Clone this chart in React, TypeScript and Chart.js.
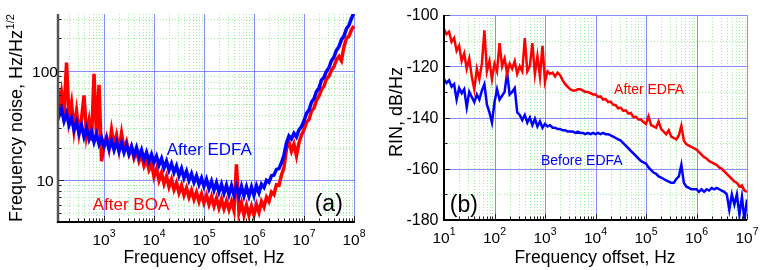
import React, { useEffect, useRef } from 'react';
import { Chart, registerables } from 'chart.js';
Chart.register(...registerables);

const FONT = '"Liberation Sans", Arial, Helvetica, sans-serif';

// ---------- Panel (a): frequency noise ----------
const freqA = [
  120, 125.9, 141.3, 158.5, 177.8, 199.5, 223.9, 251.2, 281.8, 316.2, 354.8, 398.1, 446.7, 501.2, 562.3, 631.0, 707.9, 794.3, 891.3,
  1.0e3, 1.122e3, 1.259e3, 1.413e3, 1.585e3, 1.778e3, 1.995e3, 2.239e3, 2.512e3, 2.818e3, 3.162e3, 3.548e3, 3.981e3, 4.467e3, 5.012e3, 5.623e3, 6.31e3, 7.079e3, 7.943e3, 8.913e3,
  1.0e4, 1.122e4, 1.259e4, 1.413e4, 1.585e4, 1.778e4, 1.995e4, 2.239e4, 2.512e4, 2.818e4, 3.162e4, 3.548e4, 3.981e4, 4.467e4, 5.012e4, 5.623e4, 6.31e4, 7.079e4, 7.943e4, 8.913e4,
  1.0e5, 1.122e5, 1.259e5, 1.413e5, 1.585e5, 1.778e5, 1.995e5, 2.239e5, 2.512e5, 2.818e5, 3.162e5, 3.548e5, 3.981e5, 4.467e5, 5.012e5, 5.623e5, 6.31e5, 7.079e5, 7.943e5, 8.913e5,
  1.0e6, 1.122e6, 1.259e6, 1.413e6, 1.585e6, 1.778e6, 1.995e6, 2.239e6, 2.512e6, 2.818e6, 3.162e6, 3.548e6, 3.981e6, 4.467e6, 5.012e6, 5.623e6, 6.31e6, 7.079e6, 7.943e6, 8.913e6,
  1.0e7, 1.122e7, 1.259e7, 1.413e7, 1.585e7, 1.778e7, 1.995e7, 2.239e7, 2.512e7, 2.818e7, 3.162e7, 3.548e7, 3.981e7, 4.467e7, 5.012e7, 5.623e7, 6.31e7, 7.079e7, 7.943e7, 8.913e7,
  1.0e8,
];
const noiseAfterEDFA = [
  48, 39, 45, 35, 41, 32, 37, 29, 34, 27, 32, 25, 30, 24, 28, 22.5, 26.5, 21.5, 24.5,
  20.5, 24, 19.5, 23, 19, 22.5, 18.5, 22, 18, 21, 17.5, 20.5, 17, 20, 16.5, 19, 15.5, 18, 15, 17.3,
  14.6, 16.6, 13.8, 15.8, 13, 15, 12.4, 14.2, 11.8, 13.5, 11.1, 12.8, 10.5, 12.1, 10, 11.5, 9.6, 11, 9.2, 10.5,
  8.8, 10.2, 8.4, 9.8, 8.1, 9.5, 7.8, 9.2, 7.6, 9, 7.4, 8.9, 7.3, 8.8, 7.2, 8.8, 7.2, 8.7, 7.2, 8.7,
  7.3, 8.9, 7.7, 9.2, 8.6, 10, 9.6, 11, 11.2, 12.6, 12.8, 14.5, 17, 22, 25.5, 24, 27, 25, 29, 31,
  35, 41, 44, 52, 56, 65, 70, 83, 88, 100, 108, 125, 135, 156, 168, 195, 210, 245, 265, 305,
  345,
];
const noiseAfterBOA = [
  70, 44, 63, 41, 120, 37, 51, 29, 43, 27, 37, 60, 26, 35, 23, 95, 25, 75, 15,
  21, 25, 19.5, 29, 21, 26, 19, 27, 19.5, 22.5, 17.5, 20, 16, 18.5, 15, 17.3, 13.6, 15.5, 12.5, 14.2,
  10.8, 12.8, 10, 11.7, 9.3, 10.9, 8.7, 10.2, 8.2, 9.5, 7.7, 9, 7.3, 8.5, 7, 8.1, 6.7, 7.8, 6.4, 7.5,
  6.2, 7.3, 6, 7.1, 5.8, 6.9, 5.6, 6.7, 5.5, 6.5, 5.4, 6.4, 5.3, 14, 5.1, 6.2, 4.8, 5.9, 4.8, 5.8,
  4.8, 6.0, 5.1, 6.4, 5.7, 7.0, 6.4, 7.8, 7.4, 9.1, 9.0, 11.2, 13, 19.5, 22.5, 18.5, 21.5, 16.8, 22, 26,
  29, 34, 36, 43, 46, 54, 59, 68, 73, 85, 90, 102, 110, 128, 137, 125, 168, 200, 210, 240,
  260,
];
const xTickValsA = [1e3, 1e4, 1e5, 1e6, 1e7, 1e8];
const xTickExpA = ['3', '4', '5', '6', '7', '8'];
const yTickValsA = [10, 100];
const yTickLabelsA = ['10', '100'];
const yMinorA = [5, 6, 7, 8, 9, 20, 30, 40, 50, 60, 70, 80, 90, 200, 300];

// ---------- Panel (b): RIN ----------
const freqB = [
  10, 11.22, 12.59, 14.13, 15.85, 17.78, 19.95, 22.39, 25.12, 28.18, 31.62, 35.48, 39.81, 44.67, 50.12, 56.23, 63.1, 70.79, 79.43, 89.13,
  100, 112.2, 125.9, 141.3, 158.5, 177.8, 199.5, 223.9, 251.2, 281.8, 316.2, 354.8, 398.1, 446.7, 501.2, 562.3, 631, 707.9, 794.3, 891.3,
  1.0e3, 1.122e3, 1.259e3, 1.413e3, 1.585e3, 1.778e3, 1.995e3, 2.239e3, 2.512e3, 2.818e3, 3.162e3, 3.548e3, 3.981e3, 4.467e3, 5.012e3, 5.623e3, 6.31e3, 7.079e3, 7.943e3, 8.913e3,
  1.0e4, 1.122e4, 1.259e4, 1.413e4, 1.585e4, 1.778e4, 1.995e4, 2.239e4, 2.512e4, 2.818e4, 3.162e4, 3.548e4, 3.981e4, 4.467e4, 5.012e4, 5.623e4, 6.31e4, 7.079e4, 7.943e4, 8.913e4,
  1.0e5, 1.122e5, 1.259e5, 1.413e5, 1.585e5, 1.778e5, 1.995e5, 2.239e5, 2.512e5, 2.818e5, 3.162e5, 3.548e5, 3.981e5, 4.467e5, 5.012e5, 5.623e5, 6.31e5, 7.079e5, 7.943e5, 8.913e5,
  1.0e6, 1.122e6, 1.259e6, 1.413e6, 1.585e6, 1.778e6, 1.995e6, 2.239e6, 2.512e6, 2.818e6, 3.162e6, 3.548e6, 3.981e6, 4.467e6, 5.012e6, 5.623e6, 6.31e6, 7.079e6, 7.943e6, 8.913e6,
  1.0e7,
];
const rinAfterEDFA = [
  -105.5, -107.5, -106.5, -110.5, -109, -114, -112, -118, -115, -121, -117, -124, -129, -121, -125, -119, -106, -122, -118, -125,
  -119, -122, -111, -120, -117, -123, -119, -121, -118, -123, -120, -122, -109, -122, -120, -111, -123, -116, -124, -112,
  -126, -122, -123, -122.5, -124, -122.5, -123.5, -125.5, -127, -128, -129, -129.5, -129.5, -129, -129, -129.5, -130, -130, -130.5, -131,
  -131, -132, -131.8, -133, -132.8, -134, -133.8, -135, -135.2, -136.4, -136.2, -137.4, -137.2, -138.4, -138.3, -139.8, -139.7, -140.8, -140.8, -141.8,
  -142.5, -139.5, -143, -143.5, -144, -141.5, -144.5, -145.5, -146.5, -145, -147.5, -148, -148.5, -147, -143.3, -149, -150.5, -151, -151.5, -152,
  -152.5, -153.5, -154.5, -155.5, -156, -157, -157.5, -158, -158.5, -159.5, -160, -161, -162, -163, -164, -165, -165.5, -167, -166.5, -168.5,
  -169,
];
const rinBeforeEDFA = [
  -125, -126.5, -125.5, -128, -127, -133, -128.5, -130.5, -129, -136, -130, -132, -134, -131, -133, -129.5, -127, -135, -138, -142,
  -134, -129, -133, -131.5, -130, -122.5, -131, -130, -128.5, -138, -139, -141, -139, -142, -140, -143, -140.5, -143.5, -141.5, -144,
  -142.5, -143.5, -143, -144, -144, -144.5, -144.5, -145, -145, -145.5, -145.5, -145.5, -146, -145.5, -146, -146, -146.5, -146, -146.5, -146,
  -146.5, -146, -146.5, -146, -146.5, -146.5, -147, -147.5, -148, -148.5, -149, -150, -151, -152, -153, -154, -155, -156, -157, -157.5,
  -158, -159.5, -160.5, -161.5, -162, -163, -163.5, -164, -164.5, -165, -165.5, -165.5, -164, -163, -158.5, -165.5, -167, -167.5, -168, -168,
  -168, -169, -168, -169, -168, -168.5, -167.5, -168, -167.5, -168, -168.5, -169, -170, -176, -170, -174, -170, -178, -171, -180,
  -172,
];
const xTickValsB = [1e1, 1e2, 1e3, 1e4, 1e5, 1e6, 1e7];
const xTickExpB = ['1', '2', '3', '4', '5', '6', '7'];
const yTickValsB = [-100, -120, -140, -160, -180];
const yTickLabelsB = ['-100', '-120', '-140', '-160', '-180'];
const yMinorB = [-110, -130, -150, -170];

const BLUE_GRID = 'rgba(110,110,255,0.8)';
const GREEN_GRID = 'rgba(140,235,140,0.85)';

function logMinors(min: number, max: number) {
  const out: number[] = [];
  for (let d = Math.floor(Math.log10(min)); d <= Math.ceil(Math.log10(max)); d++) {
    for (let m = 2; m <= 9; m++) {
      const v = m * Math.pow(10, d);
      if (v > min && v < max) out.push(v);
    }
  }
  return out;
}

type Note = { text: string; x: number; y: number; color: string; size: number };
type PanelCfg = {
  xMajor: number[]; xExp: string[]; xMinor: number[];
  yMajor: number[]; yLabels: string[]; yMinor: number[];
  yLabelAlign: 'center' | 'right'; yLabelX: number; yLabelSize: number;
  yAxisColor: string; yAxisWidth: number;
  xTitle: string; xTitleX: number;
  yTitle: string; yTitleSup?: string; yTitleX: number; yTitleY: number; yTitleAlign: 'left' | 'center';
  notes: Note[];
};

function line(ctx: CanvasRenderingContext2D, x1: number, y1: number, x2: number, y2: number) {
  ctx.beginPath(); ctx.moveTo(x1, y1); ctx.lineTo(x2, y2); ctx.stroke();
}

function makePlugin(cfg: PanelCfg) {
  return {
    id: 'panelDeco',
    beforeDatasetsDraw(chart: any) {
      const { ctx, chartArea: a, scales } = chart;
      const xs = scales.x, ys = scales.y;
      ctx.save();
      ctx.lineWidth = 1;
      ctx.strokeStyle = GREEN_GRID;
      ctx.setLineDash([1, 2]);
      cfg.xMinor.forEach((v) => { const p = Math.round(xs.getPixelForValue(v)) + 0.5; line(ctx, p, a.top, p, a.bottom); });
      cfg.yMinor.forEach((v) => { const p = Math.round(ys.getPixelForValue(v)) + 0.5; line(ctx, a.left, p, a.right, p); });
      ctx.setLineDash([]);
      ctx.strokeStyle = BLUE_GRID;
      cfg.xMajor.forEach((v) => { const p = Math.round(xs.getPixelForValue(v)) + 0.5; line(ctx, p, a.top, p, a.bottom); });
      cfg.yMajor.forEach((v) => { const p = Math.round(ys.getPixelForValue(v)) + 0.5; line(ctx, a.left, p, a.right, p); });
      ctx.restore();
    },
    afterDatasetsDraw(chart: any) {
      const { ctx, chartArea: a, scales } = chart;
      const xs = scales.x, ys = scales.y;
      ctx.save();
      // inward ticks
      ctx.strokeStyle = '#222';
      ctx.lineWidth = 1;
      cfg.xMinor.forEach((v) => { const p = Math.round(xs.getPixelForValue(v)) + 0.5; line(ctx, p, a.bottom, p, a.bottom - 3.5); });
      cfg.xMajor.forEach((v) => { const p = Math.round(xs.getPixelForValue(v)) + 0.5; line(ctx, p, a.bottom, p, a.bottom - 6); });
      cfg.yMinor.forEach((v) => { const p = Math.round(ys.getPixelForValue(v)) + 0.5; line(ctx, a.left, p, a.left + 3.5, p); });
      cfg.yMajor.forEach((v) => { const p = Math.round(ys.getPixelForValue(v)) + 0.5; line(ctx, a.left, p, a.left + 6, p); });
      // axis lines
      ctx.lineWidth = cfg.yAxisWidth;
      ctx.strokeStyle = cfg.yAxisColor;
      line(ctx, a.left, a.top, a.left, a.bottom + 1);
      ctx.lineWidth = 2;
      ctx.strokeStyle = '#000';
      line(ctx, a.left - 1, a.bottom, a.right, a.bottom);

      ctx.fillStyle = '#000';
      // x tick labels 10^n
      const baseFont = `15.5px ${FONT}`;
      const supFont = `10.5px ${FONT}`;
      ctx.textBaseline = 'alphabetic';
      ctx.textAlign = 'left';
      cfg.xMajor.forEach((v, i) => {
        const px = xs.getPixelForValue(v);
        ctx.font = baseFont;
        const wb = ctx.measureText('10').width;
        ctx.font = supFont;
        const ws = ctx.measureText(cfg.xExp[i]).width;
        const left = px - (wb + ws) / 2;
        ctx.font = baseFont;
        ctx.fillText('10', left, a.bottom + 23);
        ctx.font = supFont;
        ctx.fillText(cfg.xExp[i], left + wb, a.bottom + 15);
      });
      // y tick labels
      ctx.font = `${cfg.yLabelSize}px ${FONT}`;
      ctx.textAlign = cfg.yLabelAlign;
      ctx.textBaseline = 'middle';
      cfg.yMajor.forEach((v, i) => {
        ctx.fillText(cfg.yLabels[i], cfg.yLabelX, ys.getPixelForValue(v) + 1);
      });
      // x title
      ctx.font = `17.5px ${FONT}`;
      ctx.textAlign = 'center';
      ctx.textBaseline = 'alphabetic';
      ctx.fillText(cfg.xTitle, cfg.xTitleX, 263);
      // y title
      ctx.save();
      ctx.translate(cfg.yTitleX, cfg.yTitleY);
      ctx.rotate(-Math.PI / 2);
      ctx.font = `18px ${FONT}`;
      ctx.textAlign = cfg.yTitleAlign;
      ctx.fillText(cfg.yTitle, 0, 0);
      if (cfg.yTitleSup) {
        const w = ctx.measureText(cfg.yTitle).width;
        ctx.font = `11px ${FONT}`;
        ctx.textAlign = 'left';
        ctx.fillText(cfg.yTitleSup, w + 0.5, -8);
      }
      ctx.restore();
      // annotations
      ctx.textAlign = 'left';
      ctx.textBaseline = 'middle';
      cfg.notes.forEach((n) => {
        ctx.font = `${n.size}px ${FONT}`;
        ctx.fillStyle = n.color;
        ctx.fillText(n.text, xs.getPixelForValue(n.x), ys.getPixelForValue(n.y));
      });
      ctx.restore();
    },
  };
}

function ds(label: string, xs: number[], ys: number[], color: string, width: number) {
  return {
    label,
    data: xs.map((x, i) => ({ x, y: ys[i] })),
    borderColor: color,
    backgroundColor: color,
    borderWidth: width,
    pointRadius: 0,
    tension: 0,
    fill: false,
    borderJoinStyle: 'miter' as const,
  };
}

export default function App() {
  const refA = useRef<HTMLCanvasElement>(null);
  const refB = useRef<HTMLCanvasElement>(null);

  useEffect(() => {
    const xMinA = 120, xMaxA = 1.05e8;
    const cfgA: PanelCfg = {
      xMajor: xTickValsA, xExp: xTickExpA, xMinor: logMinors(xMinA, xMaxA),
      yMajor: yTickValsA, yLabels: yTickLabelsA, yMinor: yMinorA,
      yLabelAlign: 'center', yLabelX: 45, yLabelSize: 15.5,
      yAxisColor: '#555', yAxisWidth: 2.5,
      xTitle: 'Frequency offset, Hz', xTitleX: 204,
      yTitle: 'Frequency noise, Hz/Hz', yTitleSup: '1/2', yTitleX: 22, yTitleY: 222, yTitleAlign: 'left',
      notes: [
        { text: 'After EDFA', x: 1.8e4, y: 18.9, color: '#0000ff', size: 17 },
        { text: 'After BOA', x: 594, y: 5.95, color: '#ff0000', size: 17 },
        { text: '(a)', x: 1.64e7, y: 5.95, color: '#000', size: 23 },
      ],
    };
    const chartA = new Chart(refA.current as HTMLCanvasElement, {
      type: 'line',
      data: {
        datasets: [
          ds('After EDFA', freqA, noiseAfterEDFA, '#0000ff', 3.5),
          ds('After BOA', freqA, noiseAfterBOA, '#ff0000', 3.5),
        ],
      },
      options: {
        animation: false,
        responsive: false,
        maintainAspectRatio: false,
        events: [],
        layout: { padding: { left: 58, right: 25, top: 14, bottom: 48 } },
        plugins: { legend: { display: false }, tooltip: { enabled: false } },
        scales: {
          x: { type: 'logarithmic', min: xMinA, max: xMaxA, display: false },
          y: { type: 'logarithmic', min: 4.15, max: 335, display: false },
        },
      },
      plugins: [makePlugin(cfgA)],
    } as any);

    const cfgB: PanelCfg = {
      xMajor: xTickValsB, xExp: xTickExpB, xMinor: logMinors(10, 1e7),
      yMajor: yTickValsB, yLabels: yTickLabelsB, yMinor: yMinorB,
      yLabelAlign: 'right', yLabelX: 58.5, yLabelSize: 16,
      yAxisColor: '#000', yAxisWidth: 2,
      xTitle: 'Frequency offset, Hz', xTitleX: 215,
      yTitle: 'RIN, dB/Hz', yTitleX: 21.5, yTitleY: 112, yTitleAlign: 'center',
      notes: [
        { text: 'After EDFA', x: 2.33e4, y: -129.3, color: '#ff0000', size: 14 },
        { text: 'Before EDFA', x: 830, y: -157.2, color: '#0000ff', size: 14 },
        { text: '(b)', x: 13, y: -174.4, color: '#000', size: 23 },
      ],
    };
    const chartB = new Chart(refB.current as HTMLCanvasElement, {
      type: 'line',
      data: {
        datasets: [
          ds('After EDFA', freqB, rinAfterEDFA, '#ff0000', 2.5),
          ds('Before EDFA', freqB, rinBeforeEDFA, '#0000ff', 2.5),
        ],
      },
      options: {
        animation: false,
        responsive: false,
        maintainAspectRatio: false,
        events: [],
        layout: { padding: { left: 64, right: 16, top: 15, bottom: 50 } },
        plugins: { legend: { display: false }, tooltip: { enabled: false } },
        scales: {
          x: { type: 'logarithmic', min: 10, max: 1e7, display: false },
          y: { type: 'linear', min: -180, max: -100, display: false },
        },
      },
      plugins: [makePlugin(cfgB)],
    } as any);

    return () => { chartA.destroy(); chartB.destroy(); };
  }, []);

  return (
    <div style={{ position: 'absolute', left: 0, top: 0, width: 763, height: 270, background: '#fff' }}>
      <canvas ref={refA} width={380} height={270} style={{ position: 'absolute', left: 0, top: 0, width: 380, height: 270 }} />
      <canvas ref={refB} width={383} height={270} style={{ position: 'absolute', left: 380, top: 0, width: 383, height: 270 }} />
    </div>
  );
}
